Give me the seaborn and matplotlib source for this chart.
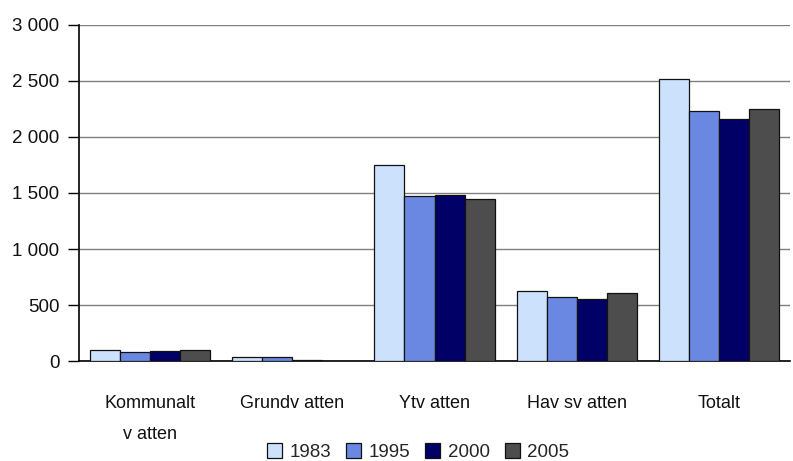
import pandas as pd
import matplotlib.pyplot as plt
import seaborn as sns
from matplotlib.ticker import FuncFormatter

kategorier = ["Kommunalt\nv atten", "Grundv atten", "Ytv atten", "Hav sv atten", "Totalt"]
ar = ["1983", "1995", "2000", "2005"]
v1983 = [102, 33, 1747, 622, 2515]
v1995 = [84, 35, 1476, 569, 2229]
v2000 = [87, 13, 1480, 551, 2158]
v2005 = [102, 0, 1444, 605, 2247]
farger = ["#CCE2FC", "#6A88E2", "#000066", "#4D4D4D"]

rows = []
for a, vals in zip(ar, [v1983, v1995, v2000, v2005]):
    for k, v in zip(kategorier, vals):
        rows.append({"kategori": k, "år": a, "värde": v})
ds = pd.DataFrame(rows)

sns.set_style("white")
plt.rcParams['font.family'] = ['Liberation Sans', 'DejaVu Sans']

fig = plt.figure(figsize=(7.93, 4.61), dpi=100)
ax = fig.add_axes([79/793, 1-361/461, 711/793, 336/461])

sns.barplot(data=ds, x="kategori", y="värde", hue="år", palette=farger, saturation=1,
            width=0.845, edgecolor="#111111", linewidth=0.9, ax=ax, zorder=3)

# dölj staplar med höjd 0
for c in ax.containers:
    for p in c:
        if p.get_height() == 0:
            p.set_visible(False)

ax.set_ylim(0, 3000)
ax.set_xlim(-0.5, 4.5)
ax.set_yticks(range(0, 3001, 500))
ax.yaxis.set_major_formatter(FuncFormatter(lambda v, p: f"{int(v):,}".replace(",", " ")))
ax.grid(axis="y", color="#808080", linewidth=1.0, zorder=0)
ax.set_axisbelow(True)
ax.set_xlabel("")
ax.set_ylabel("")

for s in ["top", "right"]:
    ax.spines[s].set_visible(False)
ax.spines["left"].set_color("black")
ax.spines["bottom"].set_color("black")
ax.spines["left"].set_linewidth(1.2)
ax.spines["bottom"].set_linewidth(1.2)

ax.tick_params(axis="y", which="both", left=True, length=8, width=1, color="black",
               labelsize=13.5, pad=6, labelcolor="#111111")
ax.tick_params(axis="x", bottom=False, labelsize=13, pad=21, labelcolor="#111111")
for t in ax.get_xticklabels():
    t.set_linespacing(2.1)

ax.legend(loc="center", bbox_to_anchor=(418/793, 1-452/461), bbox_transform=fig.transFigure,
          ncol=4, frameon=False, fontsize=13.5, handlelength=0.8, handleheight=0.8,
          handletextpad=0.4, columnspacing=0.8, borderaxespad=0)

fig.savefig("out.png", dpi=100)
